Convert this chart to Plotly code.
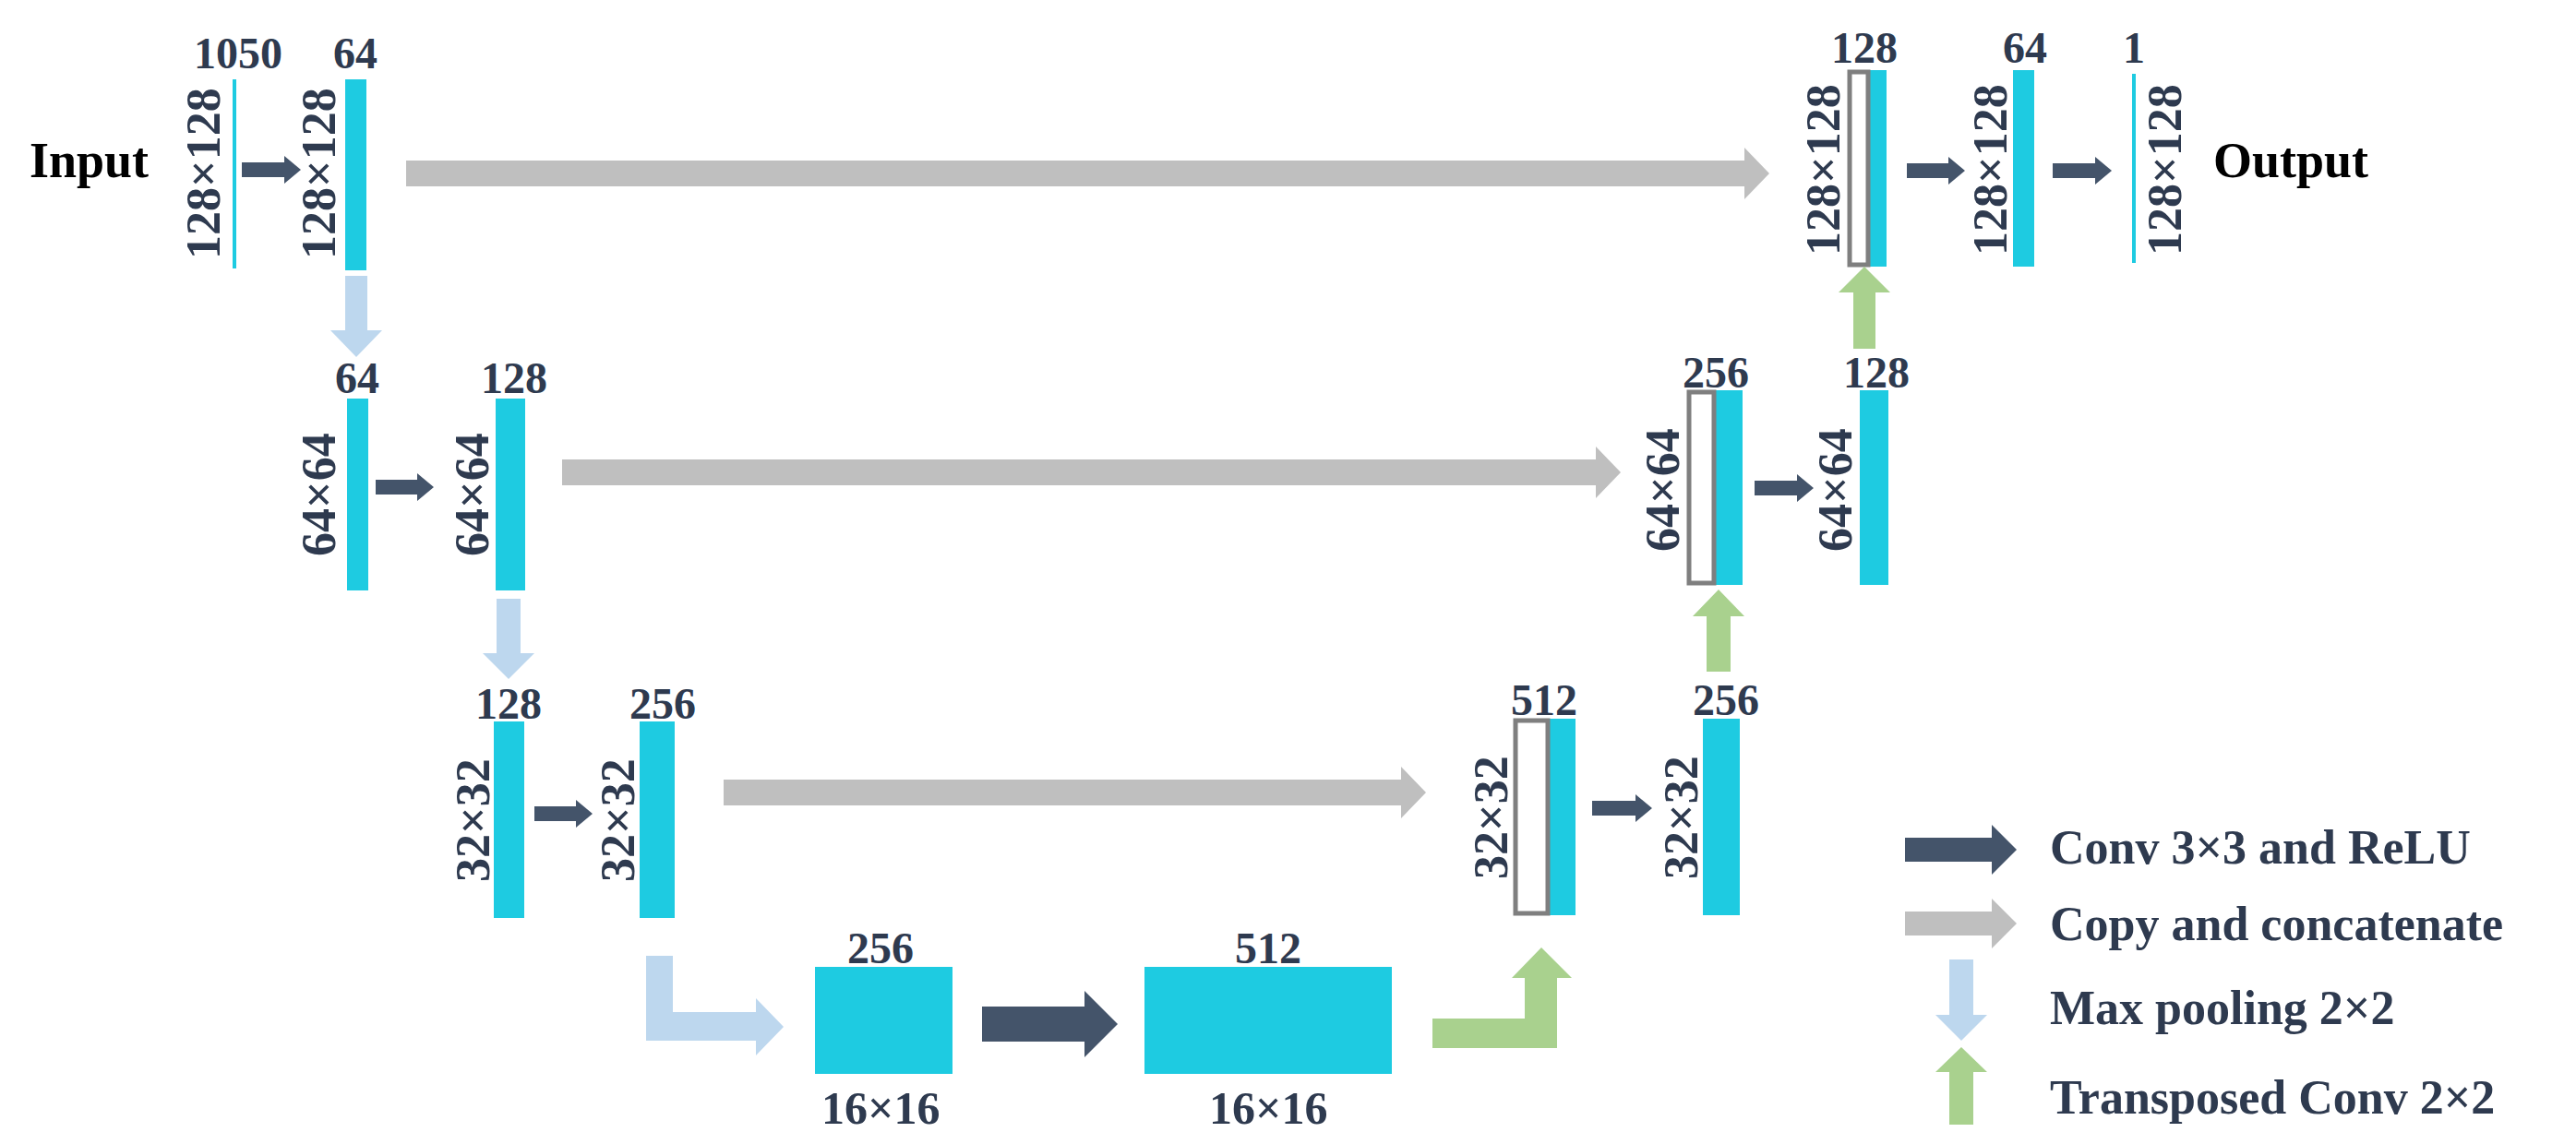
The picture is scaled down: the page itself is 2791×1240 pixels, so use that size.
import plotly.graph_objects as go

W, H = 2791, 1240
CYAN = "#1ECBE1"; CONV = "#44546A"; GRAY = "#BFBFBF"; POOL = "#BDD7EE"; UP = "#A9D18E"
TXT = "#2E3A4F"; OUTL = "#7F7F7F"
FONT = "Liberation Serif"

# --- data: channel counts and spatial sizes ---
top_channels = ["1050", "64", "64", "128", "128", "256", "256", "512", "512", "256", "256", "128", "128", "64", "1"]
side_sizes = ["128×128", "128×128", "64×64", "64×64", "32×32", "32×32", "16×16", "16×16",
              "32×32", "32×32", "64×64", "64×64", "128×128", "128×128", "128×128"]
legend_labels = ["Conv 3×3 and ReLU", "Copy and concatenate", "Max pooling 2×2", "Transposed Conv 2×2"]

# --- layout geometry (pixels) ---
blocks = [(244, 248, 78, 283), (366, 389, 78, 285), (368, 391, 424, 632), (529, 561, 424, 632),
          (527, 560, 774, 987), (685, 723, 774, 987), (875, 1024, 1040, 1156), (1232, 1500, 1040, 1156),
          (1671, 1699, 771, 984), (1837, 1877, 771, 984), (1851, 1880, 415, 626), (2007, 2038, 415, 626),
          (2018, 2036, 68, 281), (2173, 2196, 68, 281), (2302, 2306, 72, 277)]
outlines = [(1634, 1669, 773, 982), (1822, 1849, 417, 624), (1996, 2016, 70, 279)]
top_pos = [(250, 49), (377, 49), (379, 401), (549, 401), (543, 754), (710, 754), (946, 1019), (1366, 1019),
           (1665, 750), (1862, 750), (1851, 395), (2025, 395), (2012, 43), (2186, 43), (2304, 43)]
side_pos = [(212, 180), (337, 180), (337, 528), (503, 528), (504, 881), (661, 881), (946, 1193), (1366, 1193),
            (1607, 878), (1813, 878), (1793, 523), (1980, 523), (1967, 176), (2148, 176), (2337, 176)]

shapes = []

def poly(pts, color):
    d = "M " + " L ".join(f"{x},{y}" for x, y in pts) + " Z"
    shapes.append(dict(type="path", path=d, fillcolor=color, line=dict(width=0), layer="above"))

def right_arrow(x0, x1, yc, bh, hh, hl, color):
    poly([(x0, yc - bh), (x1 - hl, yc - bh), (x1 - hl, yc - hh), (x1, yc), (x1 - hl, yc + hh),
          (x1 - hl, yc + bh), (x0, yc + bh)], color)

def down_arrow(xc, y0, y1, bh, hh, hl, color):
    poly([(xc - bh, y0), (xc + bh, y0), (xc + bh, y1 - hl), (xc + hh, y1 - hl), (xc, y1),
          (xc - hh, y1 - hl), (xc - bh, y1 - hl)], color)

def up_arrow(xc, ytip, ybot, bh, hh, hl, color):
    poly([(xc - bh, ybot), (xc + bh, ybot), (xc + bh, ytip + hl), (xc + hh, ytip + hl), (xc, ytip),
          (xc - hh, ytip + hl), (xc - bh, ytip + hl)], color)

for x0, x1, y0, y1 in blocks:
    shapes.append(dict(type="rect", x0=x0, x1=x1, y0=y0, y1=y1, fillcolor=CYAN, line=dict(width=0)))
for x0, x1, y0, y1 in outlines:
    shapes.append(dict(type="rect", x0=x0, x1=x1, y0=y0, y1=y1, fillcolor="white",
                       line=dict(color=OUTL, width=5)))

for x0, x1, yc in [(254, 318, 176), (2058, 2121, 177), (2216, 2280, 177), (399, 462, 520),
                   (1893, 1957, 521), (571, 634, 874), (1717, 1782, 868)]:
    right_arrow(x0, x1, yc, 8, 15, 18, CONV)
right_arrow(1056, 1203, 1102, 19, 36, 36, CONV)
for x0, x1, yc in [(432, 1909, 180), (601, 1748, 504), (776, 1537, 851)]:
    right_arrow(x0, x1, yc, 14, 28, 27, GRAY)
down_arrow(378, 291, 379, 12, 28, 29, POOL)
down_arrow(543, 641, 728, 13, 28, 28, POOL)
poly([(692, 1028), (721, 1028), (721, 1089), (811, 1089), (811, 1074), (841, 1105), (811, 1136),
      (811, 1120), (692, 1120)], POOL)
up_arrow(2012, 281, 370, 12, 28, 28, UP)
up_arrow(1854, 631, 720, 13, 28, 29, UP)
poly([(1544, 1096), (1644, 1096), (1644, 1052), (1630, 1052), (1662, 1019), (1695, 1052),
      (1679, 1052), (1679, 1128), (1544, 1128)], UP)
right_arrow(2056, 2177, 913, 13, 27, 27, CONV)
right_arrow(2056, 2177, 993, 13, 27, 27, GRAY)
down_arrow(2117, 1032, 1120, 13, 28, 28, POOL)
up_arrow(2117, 1127, 1211, 13, 28, 27, UP)

ann = []
for t, (x, y) in zip(top_channels, top_pos):
    ann.append(dict(x=x, y=y, text=f"<b>{t}</b>", showarrow=False, font=dict(family=FONT, size=48, color=TXT)))
for i, (t, (x, y)) in enumerate(zip(side_sizes, side_pos)):
    bottom = i in (6, 7)
    ann.append(dict(x=x, y=y, text=f"<b>{t}</b>", showarrow=False, textangle=0 if bottom else -90,
                    font=dict(family=FONT, size=50 if bottom else 52, color=TXT)))
ann.append(dict(x=88, y=166, text="<b>Input</b>", showarrow=False, font=dict(family=FONT, size=54, color="black")))
ann.append(dict(x=2474, y=166, text="<b>Output</b>", showarrow=False, font=dict(family=FONT, size=54, color="black")))
for t, y in zip(legend_labels, [910, 993, 1084, 1181]):
    ann.append(dict(x=2211, y=y, text=f"<b>{t}</b>", showarrow=False, xanchor="left",
                    font=dict(family=FONT, size=52, color=TXT)))

fig = go.Figure()
fig.update_layout(width=W, height=H, margin=dict(l=0, r=0, t=0, b=0), plot_bgcolor="white",
                  paper_bgcolor="white", shapes=shapes, annotations=ann, showlegend=False,
                  xaxis=dict(range=[0, W], visible=False, fixedrange=True),
                  yaxis=dict(range=[H, 0], visible=False, fixedrange=True))
fig.write_html("out.html")
